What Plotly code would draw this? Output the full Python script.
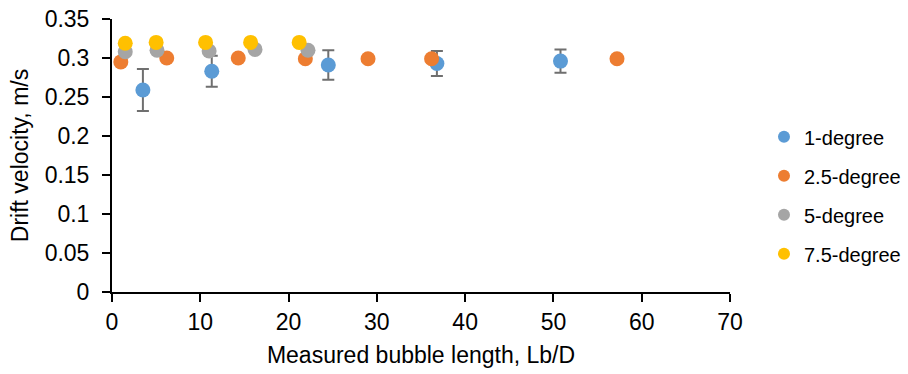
import plotly.graph_objects as go

# Drift velocity vs measured bubble length for four inclination angles
x_1deg = [3.5, 11.3, 24.5, 36.8, 50.8]
y_1deg = [0.259, 0.283, 0.291, 0.293, 0.296]
err_1deg = [0.027, 0.020, 0.019, 0.016, 0.015]

x_25deg = [1.0, 6.2, 14.3, 21.9, 29.0, 36.2, 57.2]
y_25deg = [0.295, 0.300, 0.300, 0.299, 0.299, 0.299, 0.299]

x_5deg = [1.5, 5.1, 11.0, 16.2, 22.2]
y_5deg = [0.308, 0.310, 0.309, 0.311, 0.310]

x_75deg = [1.5, 5.0, 10.6, 15.7, 21.2]
y_75deg = [0.319, 0.320, 0.320, 0.320, 0.320]

x_ticks = [0, 10, 20, 30, 40, 50, 60, 70]
y_ticks = [0, 0.05, 0.1, 0.15, 0.2, 0.25, 0.3, 0.35]
y_ticktext = ["0", "0.05", "0.1", "0.15", "0.2", "0.25", "0.3", "0.35"]

FONT = "Liberation Sans, Arial, sans-serif"
MARKER_SIZE = 15

series = [
    ("1-degree", x_1deg, y_1deg, err_1deg, "#5B9BD5"),
    ("2.5-degree", x_25deg, y_25deg, None, "#ED7D31"),
    ("5-degree", x_5deg, y_5deg, None, "#A5A5A5"),
    ("7.5-degree", x_75deg, y_75deg, None, "#FFC000"),
]

fig = go.Figure()
for i, (name, xs, ys, errs, color) in enumerate(series):
    error_y = None
    if errs is not None:
        error_y = dict(type="data", array=errs, visible=True,
                       color="#6f6f6f", thickness=2, width=6)
    fig.add_trace(go.Scatter(
        x=xs, y=ys, mode="markers", name=name,
        legendgroup=f"g{i}",
        marker=dict(color=color, size=MARKER_SIZE, line=dict(width=0)),
        error_y=error_y,
    ))

fig.update_layout(
    width=908, height=374,
    margin=dict(l=112, r=178, t=19, b=82, autoexpand=False),
    paper_bgcolor="white", plot_bgcolor="white",
    font=dict(family=FONT, size=23, color="#000000"),
    showlegend=True,
    legend=dict(
        x=1.055, y=0.64, xanchor="left", yanchor="top",
        font=dict(size=20, color="#000000"),
        itemsizing="constant", tracegroupgap=10,
        bgcolor="rgba(0,0,0,0)",
    ),
    xaxis=dict(
        range=[0, 70], tickvals=x_ticks, showgrid=False, zeroline=False,
        showline=True, linecolor="#000000", linewidth=2,
        ticks="outside", ticklen=8, tickwidth=2, tickcolor="#000000",
        tickfont=dict(size=23),
        title=dict(text="Measured bubble length, Lb/D", font=dict(size=23), standoff=13),
    ),
    yaxis=dict(
        range=[0, 0.35], tickvals=y_ticks, ticktext=y_ticktext,
        showgrid=False, zeroline=False,
        showline=True, linecolor="#000000", linewidth=2,
        ticks="outside", ticklen=8, tickwidth=2, tickcolor="#000000",
        ticklabelstandoff=8,
        tickfont=dict(size=23),
        title=dict(text="Drift velocity, m/s", font=dict(size=23), standoff=10),
    ),
)

fig.write_html("out.html")
